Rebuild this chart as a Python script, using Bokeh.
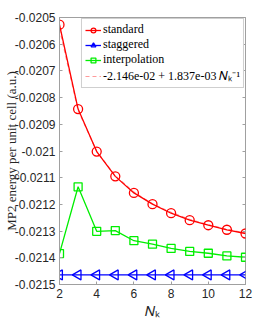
import numpy as np
from bokeh.plotting import figure
from bokeh.models import LinearAxis, FixedTicker, CustomJSTickFormatter, Range1d
from bokeh.embed import file_html
from bokeh.resources import INLINE

nk = [2, 3, 4, 5, 6, 7, 8, 9, 10, 11, 12]
standard = [-0.020527, -0.020843, -0.021002, -0.021095, -0.021157, -0.021199,
            -0.021233, -0.021259, -0.021278, -0.021295, -0.021309]
staggered = [-0.021464] * 11
interpolation = [-0.021384, -0.021134, -0.021301, -0.021298, -0.021336, -0.021349,
                 -0.021365, -0.021376, -0.021383, -0.021393, -0.021398]
fit = [-0.020542, -0.020848, -0.021001, -0.021093, -0.021154, -0.021198,
       -0.021230, -0.021256, -0.021276, -0.021293, -0.021307]
x_ticks = [2, 4, 6, 8, 10, 12]
y_ticks = [-0.0215, -0.0214, -0.0213, -0.0212, -0.0211, -0.021, -0.0209,
           -0.0208, -0.0207, -0.0206, -0.0205]

p = figure(frame_width=186, frame_height=267, output_backend="svg",
           toolbar_location=None,
           x_range=Range1d(2, 12), y_range=Range1d(-0.0215, -0.0205),
           min_border_left=54, min_border_right=8, min_border_top=17,
           min_border_bottom=29)
p.xgrid.visible = False
p.ygrid.visible = False
p.outline_line_color = "#a0a0a0"
p.outline_line_width = 1
p.background_fill_color = "white"
p.border_fill_color = "white"

fmt = CustomJSTickFormatter(code="return (+tick.toFixed(4)).toString();")
blank = CustomJSTickFormatter(code="return '';")
for ax in p.xaxis:
    ax.ticker = FixedTicker(ticks=x_ticks)
for ax in p.yaxis:
    ax.ticker = FixedTicker(ticks=y_ticks)
    ax.formatter = fmt

for ax in list(p.xaxis) + list(p.yaxis):
    ax.axis_line_color = "#a0a0a0"
    ax.major_tick_line_color = "#a0a0a0"
    ax.major_tick_in = 3
    ax.major_tick_out = 0
    ax.minor_tick_line_color = None
    ax.major_label_text_font = "Liberation Sans"
    ax.major_label_text_font_size = "12px"
    ax.major_label_text_color = "#262626"
    ax.major_label_standoff = 4
    ax.axis_label_text_font = "Liberation Serif"
    ax.axis_label_text_font_style = "normal"
    ax.axis_label_text_color = "#262626"
    ax.axis_label_text_font_size = "13px"

p.yaxis.axis_label = "MP2 energy per unit cell (a.u.)"
p.yaxis.axis_label_standoff = -7
p.xaxis.axis_label = "\U0001D441\u2096"
p.xaxis.axis_label_text_font_size = "14px"
p.xaxis.axis_label_standoff = 3

top = LinearAxis(ticker=FixedTicker(ticks=x_ticks), formatter=blank,
                 axis_line_color=None, major_tick_line_color="#a0a0a0",
                 major_tick_in=3, major_tick_out=0, minor_tick_line_color=None,
                 major_label_standoff=0)
right = LinearAxis(ticker=FixedTicker(ticks=y_ticks), formatter=blank,
                   axis_line_color=None, major_tick_line_color="#a0a0a0",
                   major_tick_in=3, major_tick_out=0, minor_tick_line_color=None,
                   major_label_standoff=0)
p.add_layout(top, "above")
p.add_layout(right, "right")

# fit line (under)
p.line(nk, fit, line_color="#ff9a9a", line_width=1.2, line_dash="4 3",
       legend_label="-2.146e-02 + 1.837e-03 \U0001D441\u2096\u207B\u00B9")

p.line(nk, standard, line_color="#ff0000", line_width=1.3, legend_label="standard")
p.scatter(nk, standard, marker="circle", size=9, line_color="#ff0000",
          fill_color=None, line_width=1.3, legend_label="standard")

p.line(nk, staggered, line_color="#0000ff", line_width=1.3, legend_label="staggered")
p.scatter(nk, staggered, marker="triangle", angle=np.pi / 2, size=10,
          line_color="#0000ff", fill_color=None, line_width=1.3,
          legend_label="staggered")

p.line(nk, interpolation, line_color="#00ee00", line_width=1.3,
       legend_label="interpolation")
p.scatter(nk, interpolation, marker="square", size=8, line_color="#00ee00",
          fill_color=None, line_width=1.3, legend_label="interpolation")

# reorder legend: standard, staggered, interpolation, fit
leg = p.legend[0]
items = leg.items
order = ["standard", "staggered", "interpolation"]
new_items = []
for name in order:
    for it in items:
        if it.label.value == name:
            new_items.append(it)
for it in items:
    if it not in new_items:
        new_items.append(it)
leg.items = new_items

leg.location = "top_right"
leg.margin = 1
leg.label_text_font = "Liberation Serif"
leg.label_text_font_size = "12px"
leg.label_text_color = "#000000"
leg.glyph_width = 16
leg.glyph_height = 12
leg.label_height = 13
leg.spacing = 0
leg.padding = 3
leg.label_standoff = 2
leg.border_line_color = "#a0a0a0"
leg.border_line_width = 1
leg.background_fill_alpha = 1.0

open("out.html", "w").write(file_html(p, INLINE))
